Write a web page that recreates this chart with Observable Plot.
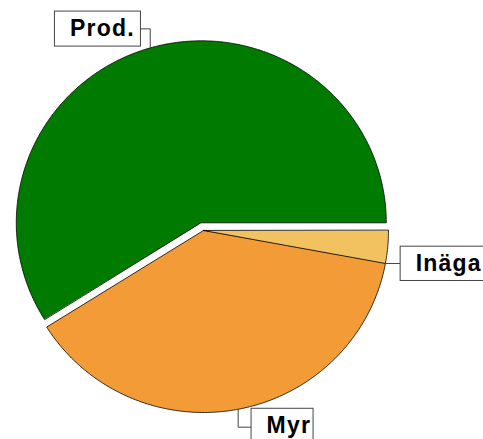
<!DOCTYPE html>
<html><head><meta charset="utf-8">
<script src="https://cdn.jsdelivr.net/npm/d3@7"></script>
<script src="https://cdn.jsdelivr.net/npm/@observablehq/plot@0.6"></script>
<style>html,body{margin:0;padding:0;background:#fff;overflow:hidden}</style>
</head><body><div id="chart"></div>
<script>
// ---- data ----
const categories = ["Prod.", "Myr", "Inäga"];
const values = [58.9, 38.2, 2.9];
const colors = ["#007b00", "#f39c37", "#f2c261"];
const exploded = [true, false, false];

// ---- layout ----
const W = 483, H = 439;
const cx = 203, cy = 230, rx = 185, ry = 182, explodePx = 8;
const toDX = d => d / rx;      // pixel offset -> data units (x)
const toDY = d => -d / ry;     // pixel offset (screen down) -> data units (y)

// label layout (pixel offsets from anchor on the rim)
const labelLayout = {
  "Prod.": {anchor: "mid",   leader: [[0,0],[0,-19],[-9.3,-19]], box: {x1: -95.3, x2: -9.3, y1: -36.3, y2: -1.3}},
  "Myr":   {anchor: "mid",   leader: [[0,0],[0,17.9],[13.4,17.9]], box: {x1: 13.4, x2: 75.4, y1: -0.5, y2: 34.5}},
  "Inäga": {anchor: "start", leader: [[0,0],[15.2,0]],            box: {x1: 15.2, x2: 105, y1: -16.8, y2: 17.5}}
};

const total = d3.sum(values);
let cum = 0;
const slices = categories.map((name, i) => {
  const a0 = cum / total * 2 * Math.PI;
  cum += values[i];
  const a1 = cum / total * 2 * Math.PI;
  const mid = (a0 + a1) / 2;
  const ox = exploded[i] ? Math.cos(mid) * toDX(explodePx) : 0;
  const oy = exploded[i] ? Math.sin(mid) * explodePx / ry : 0;
  return {name, value: values[i], color: colors[i], a0, a1, mid, ox, oy};
});

function slicePolygon(s) {
  const pts = [{x: s.ox, y: s.oy}];
  const n = Math.max(2, Math.ceil((s.a1 - s.a0) / (Math.PI / 360)));
  for (let k = 0; k <= n; k++) {
    const a = s.a0 + (s.a1 - s.a0) * k / n;
    pts.push({x: s.ox + Math.cos(a), y: s.oy + Math.sin(a)});
  }
  return pts;
}

const leaders = [], boxes = [], texts = [];
slices.forEach(s => {
  const L = labelLayout[s.name];
  const a = L.anchor === "mid" ? s.mid : s.a0;
  const ax = s.ox + Math.cos(a), ay = s.oy + Math.sin(a);
  L.leader.forEach(([dx, dy]) => leaders.push({name: s.name, x: ax + toDX(dx), y: ay + toDY(dy)}));
  const b = {name: s.name, x1: ax + toDX(L.box.x1), x2: ax + toDX(L.box.x2), y1: ay + toDY(L.box.y1), y2: ay + toDY(L.box.y2)};
  boxes.push(b);
  texts.push({name: s.name, x: ax + toDX(L.box.x1 + 15), y: ay + toDY((L.box.y1 + L.box.y2) / 2)});
});

const marks = [];
slices.forEach(s => {
  marks.push(Plot.line(slicePolygon(s), {x: "x", y: "y", curve: "linear-closed", fill: s.color, stroke: "#000", strokeWidth: 0.8}));
});
marks.push(Plot.line(leaders, {x: "x", y: "y", z: "name", stroke: "#444", strokeWidth: 1}));
marks.push(Plot.rect(boxes, {x1: "x1", x2: "x2", y1: "y1", y2: "y2", fill: "white", stroke: "#444", strokeWidth: 1}));
marks.push(Plot.text(texts, {x: "x", y: "y", text: "name", textAnchor: "start", fontSize: 23, fontWeight: "bold", fill: "#000", dy: -0.5}));

const chart = Plot.plot({
  width: W, height: H,
  marginLeft: cx - rx, marginRight: W - (cx + rx),
  marginTop: cy - ry, marginBottom: H - (cy + ry),
  x: {domain: [-1, 1], axis: null},
  y: {domain: [-1, 1], axis: null},
  style: {fontFamily: "'Liberation Sans', Arial, sans-serif", letterSpacing: "1.2px", background: "white", overflow: "visible"},
  marks
});
document.getElementById("chart").append(chart);
</script>
</body></html>
